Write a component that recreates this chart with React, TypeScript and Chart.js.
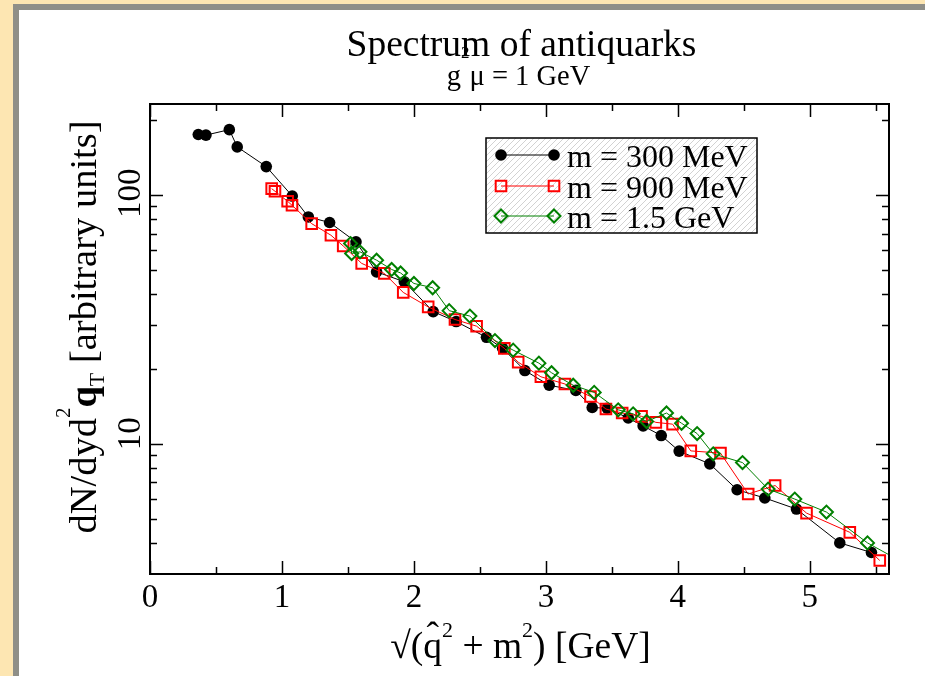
import React, { useEffect, useRef } from "react";
import { Chart, registerables } from "chart.js";

Chart.register(...registerables);

// ---- data ----
const blackX = [0.366, 0.424, 0.601, 0.661, 0.881, 1.078, 1.2, 1.361, 1.561, 1.717, 1.927, 2.146, 2.32, 2.55, 2.672, 2.841, 3.025, 3.227, 3.351, 3.464, 3.624, 3.737, 3.874, 4.01, 4.242, 4.449, 4.659, 4.899, 5.227, 5.467];
const blackY = [175, 174, 183, 156, 130, 99, 81.6, 77.5, 64.8, 49.1, 44.8, 34.0, 31.0, 26.8, 24.2, 19.7, 17.2, 16.4, 14.0, 13.9, 12.7, 11.8, 10.8, 9.35, 8.31, 6.54, 6.06, 5.47, 4.0, 3.66];

const redX = [0.922, 0.947, 1.043, 1.076, 1.225, 1.371, 1.464, 1.604, 1.775, 1.919, 2.108, 2.311, 2.475, 2.685, 2.79, 2.962, 3.144, 3.338, 3.455, 3.578, 3.725, 3.833, 3.96, 4.098, 4.323, 4.533, 4.737, 4.975, 5.303, 5.53];
const redY = [106, 103.5, 94.3, 90.9, 76.7, 68.9, 62.4, 53.1, 48.4, 40.6, 35.5, 31.6, 29.7, 24.2, 21.3, 18.6, 17.4, 15.5, 13.8, 13.3, 12.9, 12.2, 12.0, 9.37, 9.18, 6.29, 6.8, 5.27, 4.41, 3.4];

const greenX = [1.52, 1.528, 1.591, 1.717, 1.831, 1.899, 2.0, 2.142, 2.267, 2.424, 2.614, 2.752, 2.947, 3.043, 3.207, 3.366, 3.548, 3.661, 3.763, 3.914, 4.028, 4.146, 4.268, 4.49, 4.684, 4.886, 5.126, 5.437, 5.7];
const greenY = [63.8, 58.2, 59.1, 54.7, 50.2, 48.6, 44.1, 42.4, 34.3, 32.6, 26.0, 23.8, 21.1, 19.3, 17.2, 16.1, 13.7, 13.2, 12.3, 13.3, 12.1, 11.0, 9.12, 8.41, 6.58, 6.0, 5.32, 4.0, 3.35];

const seriesLabels = ["m = 300 MeV", "m = 900 MeV", "m = 1.5 GeV"];
const titleText = "Spectrum of antiquarks";

const xMajorTicks = [0, 1, 2, 3, 4, 5];
const xMinorTicks = [0.5, 1.5, 2.5, 3.5, 4.5, 5.5];
const yMajorTicks = [10, 100];
const yMinorTicks = [4, 5, 6, 7, 8, 9, 20, 30, 40, 50, 60, 70, 80, 90, 200];

const X_MIN = 0;
const X_MAX = 5.6;
const Y_MIN = 3;
const Y_MAX = 232;

const SERIF = '"Liberation Serif", "Times New Roman", serif';

type Seg = { t: string; size: number; bold?: boolean; dy?: number; dx?: number; hat?: boolean };

function fontOf(s: Seg) {
  return `${s.bold ? "bold " : ""}${s.size}px ${SERIF}`;
}

function drawRich(ctx: CanvasRenderingContext2D, segs: Seg[], x: number, y: number, align: "left" | "center" | "right", rot = 0) {
  let total = 0;
  for (const s of segs) {
    ctx.font = fontOf(s);
    total += ctx.measureText(s.t).width + (s.dx || 0);
  }
  ctx.save();
  ctx.translate(x, y);
  ctx.rotate(rot);
  ctx.textAlign = "left";
  ctx.textBaseline = "alphabetic";
  ctx.fillStyle = "#000";
  let cx = align === "center" ? -total / 2 : align === "right" ? -total : 0;
  for (const s of segs) {
    cx += s.dx || 0;
    ctx.font = fontOf(s);
    const w = ctx.measureText(s.t).width;
    ctx.fillText(s.t, cx, s.dy || 0);
    if (s.hat) {
      ctx.textAlign = "center";
      ctx.fillText("\u02C6", cx + w / 2, (s.dy || 0) - 10);
      ctx.textAlign = "left";
    }
    cx += w;
  }
  ctx.restore();
}

function drawMarker(ctx: CanvasRenderingContext2D, style: string, x: number, y: number, r: number, color: string) {
  ctx.save();
  ctx.beginPath();
  if (style === "circle") {
    ctx.arc(x, y, r, 0, Math.PI * 2);
    ctx.fillStyle = color;
    ctx.fill();
  } else if (style === "rect") {
    const s = Math.SQRT1_2 * r;
    ctx.rect(x - s, y - s, 2 * s, 2 * s);
    ctx.strokeStyle = color;
    ctx.lineWidth = 2;
    ctx.stroke();
  } else {
    ctx.moveTo(x - r, y);
    ctx.lineTo(x, y - r);
    ctx.lineTo(x + r, y);
    ctx.lineTo(x, y + r);
    ctx.closePath();
    ctx.strokeStyle = color;
    ctx.lineWidth = 2;
    ctx.stroke();
  }
  ctx.restore();
}

const framePlugin = {
  id: "frame",
  beforeDraw(chart: any) {
    const ctx: CanvasRenderingContext2D = chart.ctx;
    const W = chart.width;
    const H = chart.height;
    ctx.save();
    ctx.fillStyle = "#FDE6B2";
    ctx.fillRect(0, 0, W, H);
    ctx.fillStyle = "#8F8F88";
    ctx.fillRect(13, 4, W - 13, H - 4);
    ctx.fillStyle = "#FFFFFF";
    ctx.fillRect(19, 10, W - 19, H - 10);
    ctx.restore();
  },
};

const decorPlugin = {
  id: "decor",
  afterDraw(chart: any) {
    const ctx: CanvasRenderingContext2D = chart.ctx;
    const area = chart.chartArea;
    const xs = chart.scales.x;
    const ys = chart.scales.y;
    const L = area.left, R = area.right, T = area.top, B = area.bottom;

    ctx.save();
    // ticks (inward, on all four sides)
    ctx.strokeStyle = "#000";
    ctx.lineWidth = 1.5;
    const MAJ = 13, MIN = 7;
    ctx.beginPath();
    for (const v of xMajorTicks.concat(xMinorTicks)) {
      const len = xMajorTicks.includes(v) ? MAJ : MIN;
      const px = Math.round(xs.getPixelForValue(v)) + 0.5;
      ctx.moveTo(px, B); ctx.lineTo(px, B - len);
      ctx.moveTo(px, T); ctx.lineTo(px, T + len);
    }
    for (const v of yMajorTicks.concat(yMinorTicks)) {
      const len = yMajorTicks.includes(v) ? MAJ : MIN;
      const py = Math.round(ys.getPixelForValue(v)) + 0.5;
      ctx.moveTo(L, py); ctx.lineTo(L + len, py);
      ctx.moveTo(R, py); ctx.lineTo(R - len, py);
    }
    ctx.stroke();

    // frame
    ctx.lineWidth = 2;
    ctx.strokeRect(L, T, R - L, B - T);

    // x tick labels
    ctx.fillStyle = "#000";
    ctx.font = `33px ${SERIF}`;
    ctx.textAlign = "center";
    ctx.textBaseline = "alphabetic";
    for (const v of xMajorTicks) {
      ctx.fillText(String(v), xs.getPixelForValue(v), 607);
    }
    // y tick labels (rotated)
    for (const v of yMajorTicks) {
      const py = ys.getPixelForValue(v);
      ctx.save();
      ctx.translate(140, py - 26.5);
      ctx.rotate(-Math.PI / 2);
      ctx.textAlign = "right";
      ctx.font = `33px ${SERIF}`;
      ctx.fillText(String(v), 0, 0);
      ctx.restore();
    }

    const cxArea = (L + R) / 2;
    // title + subtitle
    drawRich(ctx, [{ t: titleText, size: 37.5 }], cxArea + 2, 56, "center");
    drawRich(ctx, [
      { t: "g", size: 28.5 },
      { t: "2", size: 17, dy: -27 },
      { t: "\u03BC = 1 GeV", size: 28.5 },
    ], cxArea - 1, 85, "center");

    // x axis title
    drawRich(ctx, [
      { t: "\u221A(", size: 37.5 },
      { t: "q", size: 37.5, hat: true },
      { t: "2", size: 22, dy: -21 },
      { t: " + m", size: 37.5 },
      { t: "2", size: 22, dy: -21 },
      { t: ") [GeV]", size: 37.5 },
    ], cxArea + 1, 658, "center");

    // y axis title
    drawRich(ctx, [
      { t: "dN/dyd", size: 38.5 },
      { t: "2", size: 21, dy: -26 },
      { t: "q", size: 38.5, bold: true },
      { t: "T", size: 22, dy: 8 },
      { t: " [arbitrary units]", size: 38.5 },
    ], 96, 327, "center", -Math.PI / 2);

    // legend
    const bx = 486, by = 138, bw = 271, bh = 95;
    ctx.save();
    ctx.beginPath();
    ctx.rect(bx, by, bw, bh);
    ctx.fillStyle = "#FFFFFF";
    ctx.fill();
    ctx.clip();
    ctx.strokeStyle = "#D2D2D2";
    ctx.lineWidth = 1;
    ctx.beginPath();
    for (let x0 = bx - bh; x0 < bx + bw + 6; x0 += 6) {
      ctx.moveTo(x0, by + bh);
      ctx.lineTo(x0 + bh, by);
    }
    ctx.stroke();
    ctx.restore();
    ctx.strokeStyle = "#000";
    ctx.lineWidth = 1.5;
    ctx.strokeRect(bx, by, bw, bh);

    const rows = [155, 186, 216];
    chart.data.datasets.forEach((ds: any, i: number) => {
      const y = rows[i];
      ctx.beginPath();
      ctx.strokeStyle = ds.borderColor;
      ctx.lineWidth = 1;
      ctx.moveTo(501, y);
      ctx.lineTo(554, y);
      ctx.stroke();
      drawMarker(ctx, ds.pointStyle, 501, y, ds.pointRadius, ds.borderColor);
      drawMarker(ctx, ds.pointStyle, 554, y, ds.pointRadius, ds.borderColor);
      ctx.fillStyle = "#000";
      ctx.font = `32px ${SERIF}`;
      ctx.textAlign = "left";
      ctx.textBaseline = "alphabetic";
      ctx.fillText(ds.label, 567, y + 11.5);
    });
    ctx.restore();
  },
};

function pts(xs: number[], ys: number[]) {
  return xs.map((x, i) => ({ x, y: ys[i] }));
}

export default function App() {
  const ref = useRef<HTMLCanvasElement>(null);
  useEffect(() => {
    const canvas = ref.current;
    if (!canvas) return;
    const chart = new Chart(canvas, {
      type: "scatter",
      data: {
        datasets: [
          {
            label: seriesLabels[0],
            data: pts(blackX, blackY),
            showLine: true,
            borderColor: "#000000",
            borderWidth: 1,
            pointStyle: "circle",
            pointRadius: 5.8,
            pointBackgroundColor: "#000000",
            pointBorderColor: "#000000",
            pointBorderWidth: 0,
            order: 3,
          },
          {
            label: seriesLabels[1],
            data: pts(redX, redY),
            showLine: true,
            borderColor: "#FF0000",
            borderWidth: 1,
            pointStyle: "rect",
            pointRadius: 7.5,
            pointBackgroundColor: "rgba(0,0,0,0)",
            pointBorderColor: "#FF0000",
            pointBorderWidth: 2,
            order: 2,
          },
          {
            label: seriesLabels[2],
            data: pts(greenX, greenY),
            showLine: true,
            borderColor: "#008000",
            borderWidth: 1,
            pointStyle: "rectRot",
            pointRadius: 6.5,
            pointBackgroundColor: "rgba(0,0,0,0)",
            pointBorderColor: "#008000",
            pointBorderWidth: 2,
            order: 1,
          },
        ] as any,
      },
      options: {
        responsive: false,
        animation: false,
        devicePixelRatio: 1,
        events: [],
        layout: { padding: { left: 150, top: 104, right: 36, bottom: 102 } },
        scales: {
          x: { type: "linear", min: X_MIN, max: X_MAX, display: false },
          y: { type: "logarithmic", min: Y_MIN, max: Y_MAX, display: false },
        },
        plugins: {
          legend: { display: false },
          tooltip: { enabled: false },
          title: { display: false },
        },
      } as any,
      plugins: [framePlugin, decorPlugin],
    });
    return () => chart.destroy();
  }, []);
  return (
    <canvas
      ref={ref}
      width={925}
      height={676}
      style={{ position: "absolute", left: 0, top: 0, width: 925, height: 676, display: "block" }}
    />
  );
}
